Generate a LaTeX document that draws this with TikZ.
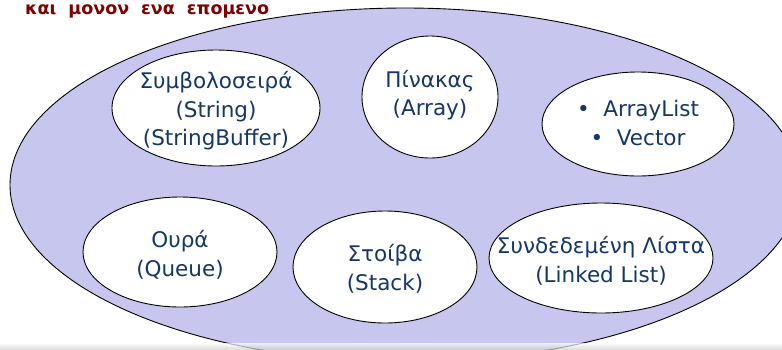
\documentclass[tikz,border=0pt]{standalone}
\usepackage{fontspec}
\setmainfont{DejaVu Sans}
\usetikzlibrary{shapes.geometric}
\definecolor{outerfill}{RGB}{198,198,238}
\definecolor{txtblue}{RGB}{20,55,105}
\definecolor{titlered}{RGB}{128,0,0}
\tikzset{
  outer/.style={ellipse, draw=black, line width=0.9pt, fill=outerfill, inner sep=0pt},
  inner/.style={ellipse, draw=black, line width=0.9pt, fill=white, inner sep=0pt},
  lbl/.style={text=txtblue, align=center, inner sep=0pt, font=\fontsize{21.5}{28.5}\selectfont},
  titletxt/.style={text=titlered, font=\bfseries\fontsize{17.5}{20}\selectfont, inner sep=0pt, anchor=base west}
}
\begin{document}
\begin{tikzpicture}[x=1pt,y=-1pt]
\useasboundingbox (0,0) rectangle (782,349);
\node[outer, minimum width=790pt, minimum height=354pt] (big) at (405,185) {};
\node[titletxt] (title) at (25,14) {και\hspace{12pt}μονον\hspace{12pt}ενα\hspace{12pt}επομενο};
\node[inner, minimum width=208pt, minimum height=116pt] (str) at (216,108) {};
\node[inner, minimum width=136pt, minimum height=122pt] (arr) at (430,97) {};
\node[inner, minimum width=192pt, minimum height=104pt] (al) at (638,124) {};
\node[inner, minimum width=194pt, minimum height=110pt] (que) at (180,252) {};
\node[inner, minimum width=184pt, minimum height=112pt] (stk) at (385,267) {};
\node[inner, minimum width=224pt, minimum height=110pt] (ll) at (601,258) {};
\node[lbl] (strt) at ([yshift=-3pt]str.center) {Συμβολοσειρά\\(String)\\(StringBuffer)};
\node[lbl] (arrt) at ([yshift=2pt]arr.center) {Πίνακας\\(Array)};
\node[lbl] (alt) at ([yshift=1pt]al.center) {•\ \ ArrayList\\•\ \ Vector};
\node[lbl] (quet) at ([yshift=-3pt]que.center) {Ουρά\\(Queue)};
\node[lbl] (stkt) at ([yshift=-2pt]stk.center) {Στοίβα\\(Stack)};
\node[lbl] (llt) at ([yshift=-3pt]ll.center) {Συνδεδεμένη Λίστα\\(Linked List)};
\shade[top color=white, bottom color=black!18, opacity=0.7] (0,343) rectangle (782,349);
\end{tikzpicture}
\end{document}
